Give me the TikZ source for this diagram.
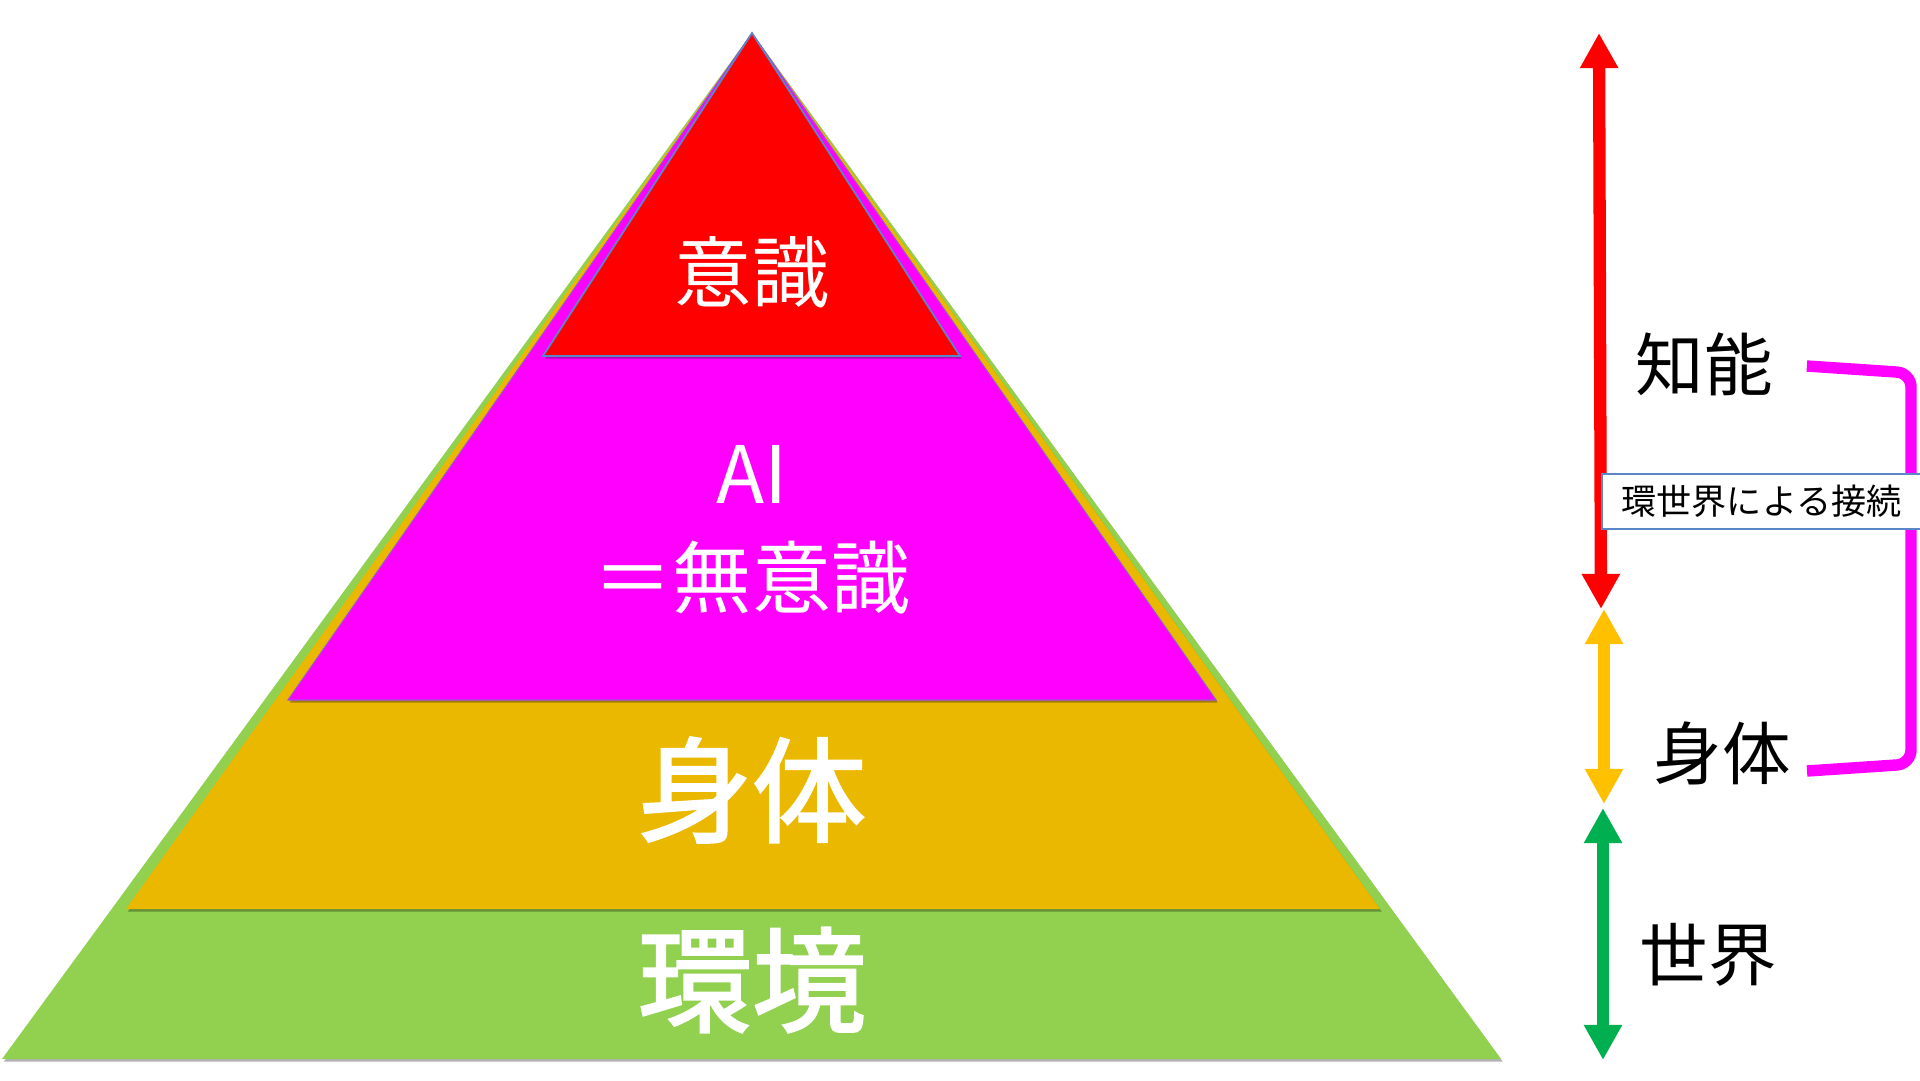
\documentclass[tikz,border=0pt]{standalone}
\usepackage{fontspec}
\setmainfont{Noto Sans CJK JP}
\newfontfamily\heavyfont{Noto Sans CJK JP}[FakeBold=2]
\usepackage{xcolor}
\usepackage{tikz}
\usetikzlibrary{shadows,arrows.meta,positioning}
\definecolor{pyrgreen}{HTML}{92D050}
\definecolor{pyryellow}{HTML}{EBB800}
\definecolor{pyrmagenta}{HTML}{FF00FF}
\definecolor{pyrred}{HTML}{FF0000}
\definecolor{arrowyellow}{HTML}{FFC000}
\definecolor{arrowgreen}{HTML}{00B050}
\definecolor{edgeblue}{HTML}{5B86C8}
\tikzset{
    layer/.style={drop shadow={shadow xshift=1pt, shadow yshift=-1.5pt, opacity=0.3, fill=black}},
    pyrlabel/.style={text=white, inner sep=0pt, align=center},
    sidelabel/.style={text=black, inner sep=0pt, font=\fontsize{39}{44}\selectfont},
    levelarrow/.style={line width=7pt, {Triangle[width=20.5pt,length=20pt]}-{Triangle[width=20.5pt,length=20pt]}},
    bracket/.style={pyrmagenta, line width=6.5pt, rounded corners=8pt},
    linkbox/.style={draw=edgeblue, line width=0.8pt, fill=white, inner sep=0pt,
        minimum width=6.38cm, minimum height=1.1cm, font=\fontsize{20}{24}\selectfont}
}

\begin{document}
\begin{tikzpicture}[x=0.02cm, y=-0.02cm]
        \useasboundingbox (0,0) rectangle (1920,1080);

        % Define the pyramid layers
        \coordinate (apex) at (752,33);
        \fill[pyrgreen, layer] (apex) -- (2,1059) -- (1501,1059) -- cycle;
        \fill[pyryellow, layer] (apex) -- (126,909) -- (1380,909) -- cycle;
        \filldraw[fill=pyrmagenta, draw=edgeblue!60!pyrmagenta, line width=0.6pt, layer] (apex) -- (288,700) -- (1216,700) -- cycle;
        \filldraw[fill=pyrred, draw=edgeblue, line width=1pt, layer] (apex) -- (543,356) -- (960,356) -- cycle;

        % Layer labels
        \node[pyrlabel, font=\fontsize{44}{50}\selectfont] (ishiki) at (752,272) {意識};
        \node[pyrlabel, font=\fontsize{45}{59}\selectfont] (muishiki) at (752,530) {AI\\＝無意識};
        \node[pyrlabel, font=\fontsize{65}{70}\selectfont\heavyfont] (shintai) at (752,790) {身体};
        \node[pyrlabel, font=\fontsize{65}{70}\selectfont\heavyfont] (kankyo) at (752,980) {環境};

        % Side labels
        \node[sidelabel] (chino) at (1704,364) {知能};
        \node[sidelabel] (karada) at (1722,753) {身体};
        \node[sidelabel] (sekai) at (1708,955) {世界};

        % Level arrows
        \coordinate (redtop) at (1599,33);
        \coordinate (redbot) at (1601,609);
        \coordinate (yeltop) at (1604,609);
        \coordinate (yelbot) at (1604,804);
        \coordinate (grntop) at (1603,808);
        \coordinate (grnbot) at (1603,1060);
        \foreach \a/\b/\col in {redtop/redbot/pyrred, yeltop/yelbot/arrowyellow, grntop/grnbot/arrowgreen}
            \draw[levelarrow, \col] (\a) -- (\b);

        % Bracket from intelligence to body
        \coordinate[right=0.68cm of chino, yshift=-0.04cm] (brtop);
        \coordinate (brne) at (1911,373);
        \coordinate (brse) at (1911,764);
        \coordinate (brbot) at (1807,771);
        \draw[bracket] (brtop) -- (brne) -- (brse) -- (brbot);

        % Connection box
        \node[linkbox] (link) at (1761.5,501.5) {環世界による接続};
    \end{tikzpicture}
\end{document}
